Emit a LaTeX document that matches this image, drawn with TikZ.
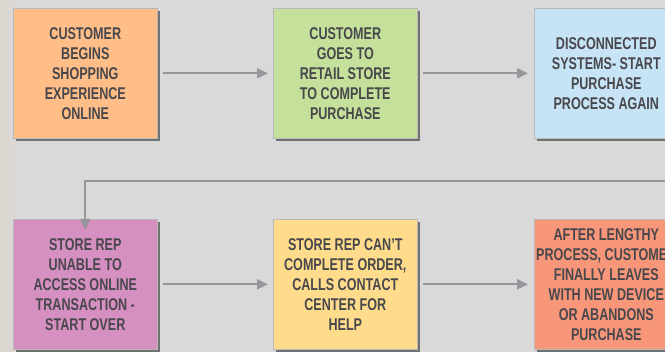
\documentclass[tikz,border=0pt]{standalone}
\usepackage{fontspec}
\setmainfont[FakeStretch=0.74]{Liberation Sans}
\usetikzlibrary{arrows.meta,shadows}
\definecolor{bg}{RGB}{217,217,217}
\definecolor{txt}{RGB}{72,72,76}
\definecolor{conn}{RGB}{150,150,156}
\definecolor{cOrange}{RGB}{255,190,136}
\definecolor{cGreen}{RGB}{197,224,155}
\definecolor{cBlue}{RGB}{199,227,246}
\definecolor{cPink}{RGB}{214,143,193}
\definecolor{cYellow}{RGB}{255,220,140}
\definecolor{cSalmon}{RGB}{248,150,122}
\definecolor{shade}{RGB}{222,210,198}
\tikzset{
  stepbox/.style={draw=gray!55, line width=0.6pt, minimum width=144pt, minimum height=130pt,
    inner sep=0pt, align=center, text=txt, font=\bfseries\fontsize{17}{20}\selectfont,
    drop shadow={shadow xshift=2.4pt, shadow yshift=-2.4pt, fill=black!60, opacity=0.9}},
  flow/.style={draw=conn, line width=2pt, -{Triangle[length=11pt,width=10pt]}}
}
\begin{document}
\begin{tikzpicture}[x=1pt,y=-1pt]
\useasboundingbox (0,0) rectangle (665,352);
\fill[bg] (0,0) rectangle (665,352);
\shade[left color=shade, right color=bg, opacity=0.6] (0,0) rectangle (16,352);
\node[stepbox, fill=cOrange, anchor=north west] (a) at (13,8) {CUSTOMER\\BEGINS\\SHOPPING\\EXPERIENCE\\ONLINE};
\node[stepbox, fill=cGreen, anchor=north west] (b) at (273,8) {CUSTOMER\\GOES TO\\RETAIL STORE\\TO COMPLETE\\PURCHASE};
\node[stepbox, fill=cBlue, anchor=north west] (c) at (534,8) {DISCONNECTED\\SYSTEMS- START\\PURCHASE\\PROCESS AGAIN};
\node[stepbox, fill=cPink, anchor=north west] (d) at (13,219) {STORE REP\\UNABLE TO\\ACCESS ONLINE\\TRANSACTION -\\START OVER};
\node[stepbox, fill=cYellow, anchor=north west] (e) at (273,219) {STORE REP CAN'T\\COMPLETE ORDER,\\CALLS CONTACT\\CENTER FOR\\HELP};
\node[stepbox, fill=cSalmon, anchor=north west] (f) at (534,219) {AFTER LENGTHY\\PROCESS, CUSTOMER\\FINALLY LEAVES\\WITH NEW DEVICE\\OR ABANDONS\\PURCHASE};
\coordinate (r) at (665,181);
\draw[flow] ([xshift=5pt]a.east) -- ([xshift=-5pt]b.west);
\draw[flow] ([xshift=5pt]b.east) -- ([xshift=-6pt]c.west);
\draw[flow] (r) -| ([yshift=-11pt]d.north);
\draw[flow] ([xshift=5pt]d.east) -- ([xshift=-5pt]e.west);
\draw[flow] ([xshift=5pt]e.east) -- ([xshift=-6pt]f.west);
\end{tikzpicture}
\end{document}
